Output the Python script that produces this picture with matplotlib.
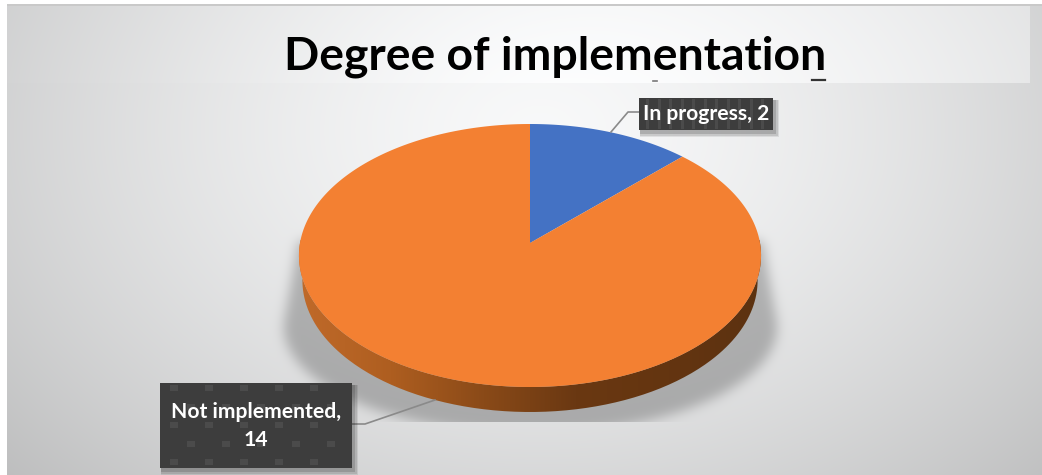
import numpy as np
import matplotlib
matplotlib.use("Agg")
import matplotlib.pyplot as plt
from matplotlib.colors import LinearSegmentedColormap
from matplotlib.patches import Rectangle, PathPatch
from matplotlib.path import Path

W, H = 1042, 475

# ---------------------------------------------------------------------------
# Data
# ---------------------------------------------------------------------------
CATEGORIES = ["In progress", "Not implemented"]
COUNTS = [2, 14]
TITLE = "Degree of implementation"

COLORS = ["#4472C4", "#F38032"]

# disc geometry in pixels: apex, far edge, near edge, half width
APEX_X, APEX_Y = 530, 243
TOP_Y, BOTTOM_Y = 124, 387
HALF_W = 230
DEPTH = 25

# perspective terms for the tilted disc
TILT = ((TOP_Y + BOTTOM_Y) - 2 * APEX_Y) / (BOTTOM_Y - TOP_Y)
SPAN = TOP_Y * (1 + TILT) - APEX_Y


def project(angle):
    """Clockwise angle from twelve o'clock -> pixel position on the tilted disc."""
    u, v = np.sin(angle), np.cos(angle)
    w = 1 + TILT * v
    return APEX_X + HALF_W * u / w, (APEX_Y + SPAN * v) / w


def blur(img, sigma):
    r = int(3 * sigma)
    k = np.exp(-0.5 * (np.arange(-r, r + 1) / sigma) ** 2)
    k /= k.sum()
    img = np.apply_along_axis(lambda v: np.convolve(v, k, mode="same"), 0, img)
    return np.apply_along_axis(lambda v: np.convolve(v, k, mode="same"), 1, img)


def background():
    yy, xx = np.mgrid[0:H, 0:W]
    d = np.hypot((xx - 540) / 700, (yy - 130) / 500)
    grey = 0.975 - 0.22 * d ** 1.5

    # lighter title strip, barely visible on the left
    strip = (yy >= 6) & (yy < 83) & (xx < 1030)
    lift = 0.004 + 0.06 * np.clip((xx - 100) / 930, 0, 1) ** 1.5
    grey = np.where(strip, np.minimum(grey + lift, 1), grey)

    # soft shadow under the disc, cut off flat at the bottom
    half = 232 + 15 * (yy - 240) / 85
    upper = (yy > 240) & (yy < 325) & (np.abs(xx - APEX_X) < half)
    lower = (yy >= 325) & (((xx - APEX_X) / 247.0) ** 2 + ((yy - 325) / 108.0) ** 2 < 1)
    shadow = blur((upper | lower).astype(float), 6)
    shadow[422:, :] = 0
    grey = grey * (1 - 0.24 * shadow)

    rgb = np.dstack([grey * 0.997, grey, grey * 1.003]).clip(0, 1)
    # white margin around the slide and its thin grey top rule
    rgb[4:6, :] = 0.79
    rgb[:4, :] = 1
    rgb[:, :7] = 1
    return rgb


fig = plt.figure(figsize=(W / 100, H / 100), dpi=100)

ax = fig.add_axes([0, 0, 1, 1])
ax.imshow(background(), extent=(0, W, H, 0), aspect="auto", zorder=0)

# rim of the disc, its lower edge a little narrower so it thins out at the sides
ex, ey = project(np.linspace(np.radians(62), np.radians(298), 300))
low_x = APEX_X + (ex - APEX_X) * 0.985
rim = np.column_stack([np.r_[ex, low_x[::-1]], np.r_[ey, ey[::-1] + DEPTH]])
rim_patch = PathPatch(Path(np.vstack([rim, rim[0]])), fc="none", ec="none")
ax.add_patch(rim_patch)
rim_cmap = LinearSegmentedColormap.from_list(
    "rim", ["#C06A2A", "#AE5E20", "#8A4A18", "#6A3812", "#643510", "#5C3210"])
im = ax.imshow(np.linspace(0, 1, 256)[None, :], cmap=rim_cmap, aspect="auto",
               extent=(APEX_X - 232, APEX_X + 232, BOTTOM_Y + DEPTH, 240), zorder=1)
im.set_clip_path(rim_patch)

# top face: one slice per category, sized from the counts
edges = np.cumsum([0] + COUNTS) / sum(COUNTS) * 2 * np.pi
for start, end, color in zip(edges[:-1], edges[1:], COLORS):
    px, py = project(np.linspace(start, end, 300))
    ax.fill(np.r_[APEX_X, px], np.r_[APEX_Y, py], color=color, lw=0, zorder=2)

ax.set_xlim(0, W)
ax.set_ylim(H, 0)
ax.axis("off")


def label_box(x0, y0, x1, y1, text, cells):
    # soft drop shadow first, then the dark box and its faint weave
    for grow, alpha in ((5, 0.08), (3.5, 0.1), (2, 0.14)):
        ax.add_patch(Rectangle((x0 + 1, y0 + 2), x1 - x0 + grow, y1 - y0 + grow,
                               fc="black", alpha=alpha, lw=0, zorder=4))
    ax.add_patch(Rectangle((x0, y0), x1 - x0, y1 - y0, fc="#3D3D3D", lw=0, zorder=5))
    for cx, cy, cw, ch in cells:
        ax.add_patch(Rectangle((cx, cy), cw, ch, fc="#5E5E5E", alpha=0.45, lw=0, zorder=6))
    ax.text((x0 + x1) / 2, (y0 + y1) / 2, text, color="white", fontsize=15.2,
            fontweight="bold", family="Lato", ha="center", va="center",
            linespacing=1.5, zorder=7)


ax.plot([611, 628, 639], [132, 112, 112], color="#8A8A8A", lw=1.2, zorder=3)
ax.plot([352, 365, 435], [424, 424, 400], color="#8A8A8A", lw=1.2, zorder=3)

# thin vertical stripes for the short label, staggered squares for the tall one
stripes = [(x, 99, 3, 30) for x in np.arange(646, 770, 11.5)]
squares = []
for row, y in enumerate(np.arange(385, 462, 18.5)):
    for x in np.arange(170 + (row % 2) * 17, 345, 35):
        squares.append((x, y, 8, 6))

label_box(639, 98, 773, 130, f"{CATEGORIES[0]}, {COUNTS[0]}", stripes)
label_box(160, 383, 352, 468, f"{CATEGORIES[1]},\n{COUNTS[1]}", squares)

ax.text(555, 57, TITLE, color="black", fontsize=33.3, fontweight="bold",
        family="Lato", ha="center", va="center", zorder=7)

# stray dashes below the title
ax.plot([812, 825], [80, 80], color="#333333", lw=1.6, zorder=3)
ax.plot([653, 657], [81, 81], color="#777777", lw=1.2, zorder=3)

fig.savefig("out.png", dpi=100)
